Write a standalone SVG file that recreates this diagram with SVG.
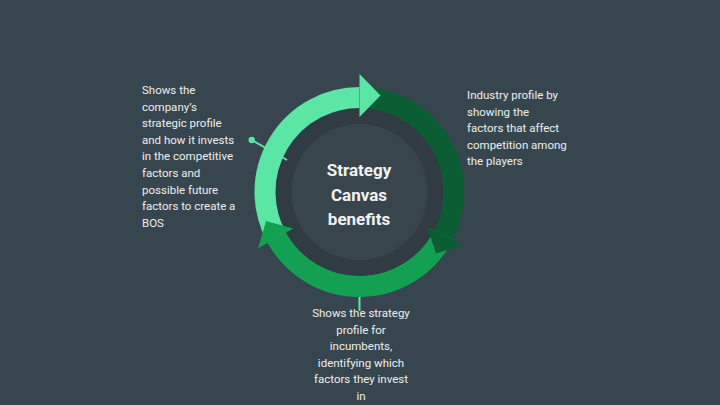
<svg xmlns="http://www.w3.org/2000/svg" width="720" height="405" viewBox="0 0 720 405">
  <style>
    .lbl { font-family: Roboto, "Liberation Sans", sans-serif; font-size: 11.5px; fill: #eeeeee; }
    .ctr { font-family: Roboto, "Liberation Sans", sans-serif; font-size: 17px; font-weight: bold; fill: #f2f2f2; text-anchor: middle; }
    .arc { fill: none; stroke-width: 21; }
    .conn { stroke: #5ce6a6; stroke-width: 2; fill: none; }
  </style>
  <rect width="720" height="405" fill="#37464e"/>

  <g id="center">
    <circle cx="359.5" cy="192" r="85" fill="#313b43"/>
    <circle cx="359.5" cy="192" r="68" fill="#38454d"/>
    <text class="ctr" x="359" y="176">Strategy</text>
    <text class="ctr" x="359" y="200.5">Canvas</text>
    <text class="ctr" x="359" y="225">benefits</text>
  </g>

  <g id="connectors">
    <line class="conn" x1="251.7" y1="140" x2="287" y2="160"/>
    <circle cx="251.7" cy="140" r="3.2" fill="#5ce6a6"/>
    <line class="conn" x1="359.5" y1="290" x2="359.5" y2="311"/>
  </g>

  <g id="ring">
    <path class="arc" stroke="#5ce6a6" d="M276.85,237.81 A94.5,94.5 0 0 1 359.5,97.5"/>
    <path class="arc" stroke="#0b5e34" d="M359.5,97.5 A94.5,94.5 0 0 1 443.7,234.9"/>
    <path class="arc" stroke="#14a052" d="M443.7,234.9 A94.5,94.5 0 0 1 276.85,237.81"/>
    <polygon fill="#5ce6a6" points="359.5,74 380.5,95.5 359.5,117"/>
    <polygon fill="#0b5e34" points="463.3,244.9 436,253.4 426.8,226.3"/>
    <polygon fill="#14a052" points="258.05,248.24 266.06,220.9 293.47,228.6"/>
  </g>

  <g id="left-text">
    <text class="lbl" x="142" y="94">Shows the</text>
    <text class="lbl" x="142" y="110.6">company’s</text>
    <text class="lbl" x="142" y="127.2">strategic profile</text>
    <text class="lbl" x="142" y="143.8">and how it invests</text>
    <text class="lbl" x="142" y="160.4">in the competitive</text>
    <text class="lbl" x="142" y="177">factors and</text>
    <text class="lbl" x="142" y="193.6">possible future</text>
    <text class="lbl" x="142" y="210.2">factors to create a</text>
    <text class="lbl" x="142" y="226.8">BOS</text>
  </g>

  <g id="right-text">
    <text class="lbl" x="467" y="99">Industry profile by</text>
    <text class="lbl" x="467" y="115.6">showing the</text>
    <text class="lbl" x="467" y="132.2">factors that affect</text>
    <text class="lbl" x="467" y="148.8">competition among</text>
    <text class="lbl" x="467" y="165.4">the players</text>
  </g>

  <g id="bottom-text" text-anchor="middle">
    <text class="lbl" x="361" y="317">Shows the strategy</text>
    <text class="lbl" x="361" y="333.6">profile for</text>
    <text class="lbl" x="361" y="350.2">incumbents,</text>
    <text class="lbl" x="361" y="366.8">identifying which</text>
    <text class="lbl" x="361" y="383.4">factors they invest</text>
    <text class="lbl" x="361" y="400">in</text>
  </g>
</svg>
